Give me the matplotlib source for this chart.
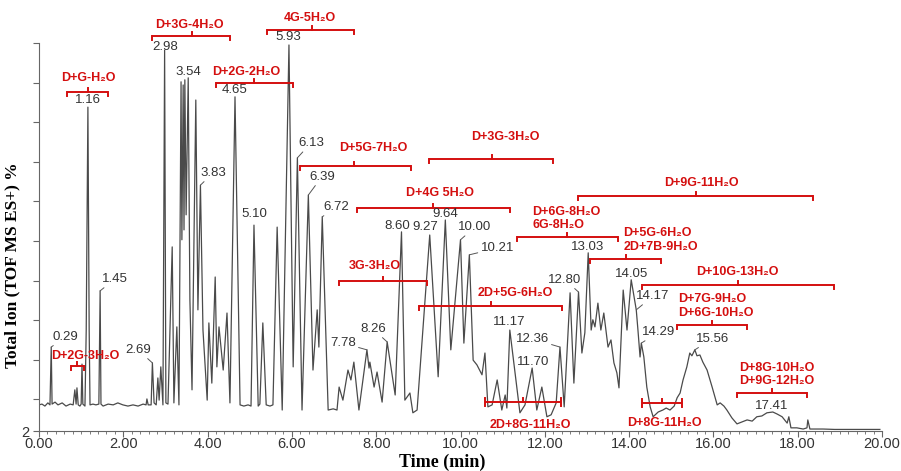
import matplotlib.pyplot as plt
import numpy as np

plt.rcParams['font.family'] = ['Liberation Sans', 'DejaVu Sans']

# total ion chromatogram (time in min, intensity in %)
times = [0.00, 0.07, 0.14, 0.21, 0.26, 0.29, 0.31, 0.38, 0.45, 0.55, 0.64, 0.74, 0.81,
         0.85, 0.88, 0.90, 0.93, 0.97, 1.00, 1.02, 1.04, 1.09, 1.12, 1.16, 1.19, 1.21,
         1.28, 1.35, 1.42, 1.45, 1.47, 1.52, 1.64, 1.76, 1.87, 1.99, 2.11, 2.23, 2.35,
         2.47, 2.54, 2.56, 2.59, 2.66, 2.69, 2.73, 2.78, 2.82, 2.85, 2.89, 2.94, 2.98,
         3.01, 3.06, 3.16, 3.20, 3.27, 3.32, 3.37, 3.39, 3.42, 3.44, 3.46, 3.49, 3.54,
         3.58, 3.63, 3.72, 3.77, 3.83, 3.89, 3.99, 4.03, 4.10, 4.18, 4.22, 4.27, 4.37,
         4.46, 4.53, 4.65, 4.77, 4.86, 4.96, 5.03, 5.10, 5.20, 5.24, 5.31, 5.39, 5.48,
         5.55, 5.65, 5.77, 5.93, 6.03, 6.13, 6.24, 6.39, 6.50, 6.60, 6.64, 6.72, 6.86,
         6.98, 7.07, 7.12, 7.21, 7.33, 7.40, 7.47, 7.59, 7.78, 7.83, 7.85, 7.95, 8.02,
         8.14, 8.26, 8.45, 8.60, 8.68, 8.80, 8.87, 8.97, 9.27, 9.47, 9.64, 9.77, 10.00,
         10.08, 10.21, 10.30, 10.39, 10.51, 10.58, 10.65, 10.75, 10.87, 10.98, 11.06,
         11.10, 11.17, 11.41, 11.53, 11.70, 11.81, 11.93, 12.05, 12.15, 12.27, 12.36,
         12.46, 12.60, 12.69, 12.80, 12.88, 12.95, 13.03, 13.10, 13.14, 13.19, 13.26,
         13.33, 13.40, 13.50, 13.57, 13.64, 13.71, 13.76, 13.86, 13.95, 14.05, 14.17,
         14.21, 14.26, 14.29, 14.35, 14.42, 14.50, 14.57, 14.69, 14.80, 14.88, 14.97,
         15.07, 15.14, 15.21, 15.28, 15.37, 15.44, 15.49, 15.56, 15.61, 15.68, 15.75,
         15.85, 15.97, 16.09, 16.16, 16.25, 16.32, 16.44, 16.56, 16.68, 16.80, 16.92,
         17.03, 17.15, 17.27, 17.41, 17.51, 17.63, 17.75, 17.79, 17.84, 17.98, 18.13,
         18.22, 18.24, 18.29, 18.43, 18.60, 18.88, 19.17, 19.48, 19.72, 19.95]
intensity = [8.6, 8.8, 8.3, 9.1, 8.6, 23.2, 8.8, 9.3, 8.6, 9.1, 8.3, 8.8, 8.6,
             12.4, 8.8, 12.9, 8.6, 8.3, 8.8, 18.9, 8.8, 8.3, 27.5, 83.8, 27.5, 8.6,
             8.8, 8.6, 8.8, 37.4, 8.8, 8.3, 8.8, 8.6, 9.1, 8.6, 8.3, 8.6, 8.3,
             8.8, 8.6, 10.1, 8.6, 8.6, 19.2, 9.1, 8.6, 15.4, 9.8, 18.2, 8.6, 98.2,
             9.1, 8.8, 48.5, 9.1, 28.3, 8.6, 90.2, 50.3, 89.4, 52.8, 90.7, 56.6, 91.2,
             35.1, 12.4, 85.6, 32.6, 64.1, 27.5, 9.8, 29.3, 14.1, 40.9, 18.2, 28.3, 17.4,
             31.8, 9.1, 86.4, 8.6, 8.3, 8.6, 8.3, 54.0, 8.3, 8.8, 29.3, 8.6, 8.3,
             8.6, 53.5, 7.3, 99.5, 18.2, 71.0, 7.3, 61.6, 17.4, 32.6, 23.2, 56.1, 7.3,
             7.6, 7.3, 13.1, 9.8, 17.4, 14.9, 19.4, 7.3, 22.5, 17.9, 19.4, 13.1, 16.9,
             9.3, 24.5, 11.1, 52.3, 9.8, 11.6, 6.6, 7.3, 51.5, 15.7, 55.3, 22.5, 50.3,
             24.2, 46.5, 19.9, 18.7, 16.2, 21.7, 8.1, 8.6, 14.9, 7.3, 11.1,
             7.8, 27.5, 6.6, 8.6, 17.9, 7.3, 13.1, 5.6, 6.1, 9.1, 23.2,
             8.1, 36.9, 14.1, 37.1, 21.7, 26.8, 47.0, 27.5, 30.1, 28.3, 34.3,
             27.5, 31.8, 23.2, 25.0, 19.2, 16.7, 12.9, 37.6, 27.5, 40.2, 32.6,
             27.5, 20.7, 24.2, 20.7, 13.1, 8.1, 5.6, 6.8, 7.3, 7.8, 7.3,
             8.3, 10.4, 11.6, 14.9, 18.2, 21.7, 21.0, 22.5, 21.0, 21.2, 19.4,
             17.4, 13.1, 8.6, 9.1, 8.3, 7.3, 5.3, 3.8, 4.3, 4.8, 4.5,
             5.6, 5.8, 6.6, 6.8, 6.3, 5.6, 4.0, 5.6, 2.8, 2.8, 2.5,
             2.8, 4.8, 2.5, 2.5, 2.5, 2.4, 2.4, 2.4, 2.4, 2.4]

# labelled retention times
peak_names = ['0.29', '1.16', '1.45', '2.69', '2.98', '3.54', '3.83', '4.65', '5.10',
              '5.93', '6.13', '6.39', '6.72', '7.78', '8.26', '8.60', '9.27', '9.64',
              '10.00', '10.21', '11.17', '12.36', '11.70', '12.80', '13.03', '14.05',
              '14.17', '14.29', '15.56', '17.41']
peak_top = [23.2, 83.8, 37.4, 19.2, 98.2, 91.2, 64.1, 86.4, 54.0, 99.5, 71.0, 61.6,
            56.1, 22.5, 24.5, 52.3, 51.5, 55.3, 50.3, 46.5, 27.5, 23.2, 17.9, 37.1,
            47.0, 40.2, 32.6, 24.2, 22.5, 6.8]
label_t = [0.62, 1.16, 1.80, 2.35, 2.99, 3.54, 4.13, 4.65, 5.10, 5.91, 6.45, 6.71, 7.05,
           7.21, 7.92, 8.49, 9.16, 9.63, 10.34, 10.87, 11.15, 11.70, 11.72, 12.48, 13.02,
           14.07, 14.57, 14.71, 15.97, 17.39]
label_v = [25.8, 85.6, 40.4, 22.5, 99.0, 92.7, 67.2, 88.1, 56.8, 101.5, 74.7, 66.2, 58.6,
           24.2, 27.8, 53.8, 53.5, 56.8, 53.5, 48.2, 29.5, 25.3, 19.4, 40.2, 48.5,
           41.7, 36.1, 27.0, 25.3, 8.3]
with_leader = ['0.29', '1.45', '2.69', '3.83', '6.13', '6.39', '6.72', '7.78', '8.26',
               '10.00', '10.21', '12.36', '12.80', '14.17', '14.29', '15.56']

# red composition brackets
br_text = ['D+G-H₂O', 'D+3G-4H₂O', 'D+2G-2H₂O', '4G-5H₂O', 'D+5G-7H₂O', 'D+3G-3H₂O',
           'D+4G 5H₂O', 'D+6G-8H₂O\n6G-8H₂O', 'D+9G-11H₂O', 'D+5G-6H₂O\n2D+7B-9H₂O',
           'D+10G-13H₂O', 'D+7G-9H₂O\nD+6G-10H₂O', '3G-3H₂O', '2D+5G-6H₂O',
           '2D+8G-11H₂O', 'D+8G-11H₂O', 'D+8G-10H₂O\nD+9G-12H₂O', 'D+2G-3H₂O']
br_left = [0.66, 2.68, 4.20, 5.41, 6.19, 9.25, 7.54, 11.34, 12.79, 13.07, 14.31, 15.14,
           7.12, 9.02, 10.58, 14.31, 16.56, 0.76]
br_right = [1.64, 4.53, 6.03, 7.47, 8.83, 12.19, 11.17, 13.74, 18.36, 14.76, 18.86, 16.80,
            9.21, 12.41, 12.38, 15.26, 18.22, 1.07]
br_mid = [1.16, 3.63, 5.10, 6.48, 7.47, 10.75, 9.35, 12.53, 15.59, 13.93, 16.58, 15.97,
          8.16, 10.72, 11.48, 14.78, 17.39, 0.90]
br_y = [87.6, 101.8, 89.9, 103.3, 68.9, 70.7, 58.3, 51.0, 61.4, 45.5, 38.9, 28.8,
        39.9, 33.6, 9.3, 9.1, 11.6, 18.4]
br_tx = [1.16, 3.57, 4.91, 6.43, 7.92, 11.06, 9.51, 11.70, 15.71, 13.86, 16.57, 15.16,
         7.97, 11.29, 11.65, 14.85, 16.61, 1.11]
br_ty = [91.2, 104.5, 92.7, 106.3, 73.5, 76.3, 62.1, 55.7, 64.6, 50.2, 42.2, 33.6,
         43.7, 36.9, 3.5, 4.0, 16.2, 21.0]

red = '#d40f0f'
fig = plt.figure(figsize=(9.01, 4.71), dpi=100)
ax = fig.add_axes([0.0433, 0.0849, 0.9356, 0.8238])

ax.plot(times, intensity, color='#4a4a4a', lw=0.9)

for name, t, top, tx, ty in zip(peak_names, [float(n) for n in peak_names], peak_top, label_t, label_v):
    if name in with_leader:
        ax.annotate(name, xy=(t, top), xytext=(tx, ty), ha='center', va='center',
                    fontsize=9.5, color='#333333',
                    arrowprops=dict(arrowstyle='-', color='#555555', lw=0.7,
                                    shrinkA=0, shrinkB=0))
    else:
        ax.text(tx, ty, name, ha='center', va='center', fontsize=9.5, color='#333333')

d = 1.0
for i, txt in enumerate(br_text):
    L, R, m, y = br_left[i], br_right[i], br_mid[i], br_y[i]
    bottom_style = br_ty[i] < br_y[i]
    ax.plot([L, R], [y, y], color=red, lw=1.4, clip_on=False, solid_capstyle='butt')
    if bottom_style:
        ax.plot([L, L], [y - d, y + d], color=red, lw=1.4, clip_on=False)
        ax.plot([R, R], [y - d, y + d], color=red, lw=1.4, clip_on=False)
    else:
        ax.plot([L, L], [y, y - d], color=red, lw=1.4, clip_on=False)
        ax.plot([R, R], [y, y - d], color=red, lw=1.4, clip_on=False)
    ax.plot([m, m], [y, y + d], color=red, lw=1.4, clip_on=False)
    ha = 'left' if '\n' in txt else 'center'
    ax.text(br_tx[i], br_ty[i], txt, ha=ha, va='center', fontsize=9, color=red,
            fontweight='bold', linespacing=1.15)

ax.set_xlim(0, 20)
ax.set_ylim(2, 100)
ax.set_xticks(np.arange(0, 20.01, 2))
ax.set_xticklabels(['%.2f' % v for v in np.arange(0, 20.01, 2)])
ax.set_xticks(np.arange(0, 20.01, 0.2), minor=True)
ax.set_yticks([2] + list(range(10, 101, 10)))
ax.set_yticklabels(['2'] + [''] * 10)
ax.tick_params(axis='x', which='major', length=4, pad=0.5, labelsize=10.5,
               colors='#333333', color='#666666')
ax.tick_params(axis='x', which='minor', length=2.5, color='#666666')
ax.tick_params(axis='y', length=4, pad=3, labelsize=10.5, colors='#333333', color='#666666')
for s in ['top', 'right']:
    ax.spines[s].set_visible(False)
for s in ['left', 'bottom']:
    ax.spines[s].set_color('#666666')

ax.set_xlabel('Time (min)', family='Liberation Serif', fontweight='bold', fontsize=13)
ax.xaxis.set_label_coords(0.478, -0.058)
ax.set_ylabel('Total Ion (TOF MS ES+) %', family='Liberation Serif', fontweight='bold',
              fontsize=12.5)
ax.yaxis.set_label_coords(-0.0225, 0.428)

fig.savefig('out.png', dpi=100)
